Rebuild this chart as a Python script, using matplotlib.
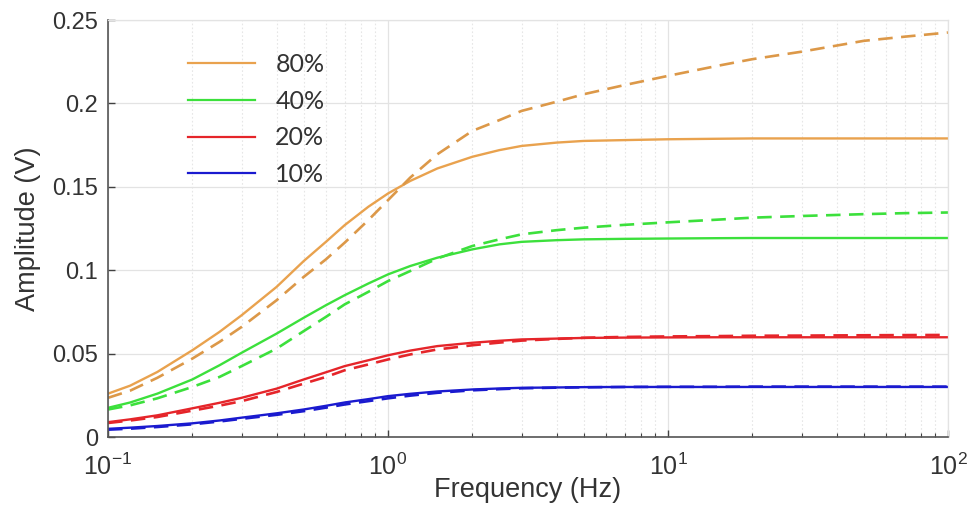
import numpy as np
import matplotlib
matplotlib.use("Agg")
import matplotlib.pyplot as plt
from matplotlib.ticker import LogLocator, NullFormatter, FixedLocator

plt.rcParams['font.family'] = ['Liberation Sans', 'DejaVu Sans']
plt.rcParams['mathtext.fontset'] = 'custom'
plt.rcParams['mathtext.rm'] = 'Liberation Sans'

freq = [0.1, 0.12, 0.15, 0.2, 0.25, 0.3, 0.4, 0.5, 0.6, 0.7, 0.85, 1, 1.2, 1.5,
        2, 2.5, 3, 4, 5, 7, 10, 15, 20, 30, 50, 70, 100]

# solid = model, dashed = measurement
amp80_solid = [0.026, 0.0308, 0.039, 0.052, 0.063, 0.073, 0.090, 0.1055, 0.117, 0.127,
               0.138, 0.146, 0.1535, 0.161, 0.168, 0.172, 0.1745, 0.1765, 0.1775, 0.178,
               0.1785, 0.1788, 0.179, 0.179, 0.179, 0.179, 0.179]
amp80_dash = [0.0235, 0.0278, 0.0355, 0.047, 0.057, 0.066, 0.082, 0.096, 0.1065, 0.1165,
              0.130, 0.142, 0.1555, 0.1695, 0.1835, 0.190, 0.1955, 0.201, 0.2055, 0.211,
              0.2165, 0.2225, 0.2265, 0.231, 0.2375, 0.240, 0.2425]
amp40_solid = [0.0175, 0.0207, 0.026, 0.0345, 0.043, 0.0505, 0.062, 0.0715, 0.079, 0.085,
               0.092, 0.0975, 0.1025, 0.1075, 0.1125, 0.1155, 0.117, 0.118, 0.1185, 0.1188,
               0.119, 0.1192, 0.1193, 0.1193, 0.1193, 0.1193, 0.1193]
amp40_dash = [0.0165, 0.019, 0.0232, 0.030, 0.036, 0.0425, 0.053, 0.0635, 0.072, 0.0795,
              0.087, 0.0935, 0.0995, 0.107, 0.1145, 0.1185, 0.1215, 0.124, 0.1255, 0.1272,
              0.1287, 0.1303, 0.1315, 0.1325, 0.1336, 0.1342, 0.1346]
amp20_solid = [0.0089, 0.0106, 0.013, 0.0172, 0.0205, 0.0235, 0.029, 0.0345, 0.0388, 0.0425,
               0.046, 0.049, 0.0518, 0.0545, 0.0565, 0.0577, 0.0585, 0.059, 0.0594, 0.0596,
               0.0597, 0.0598, 0.0598, 0.0598, 0.0598, 0.0598, 0.0598]
amp20_dash = [0.0084, 0.0099, 0.012, 0.0158, 0.0188, 0.0215, 0.027, 0.032, 0.036, 0.040,
              0.0435, 0.0465, 0.0495, 0.0525, 0.055, 0.0566, 0.0578, 0.0588, 0.0595, 0.060,
              0.0603, 0.0605, 0.0607, 0.0608, 0.061, 0.0611, 0.0612]
amp10_solid = [0.0049, 0.0056, 0.0066, 0.0082, 0.0099, 0.0116, 0.0142, 0.0165, 0.0187, 0.0207,
               0.0227, 0.0245, 0.0259, 0.0273, 0.0285, 0.0291, 0.0295, 0.0297, 0.0299, 0.030,
               0.030, 0.030, 0.030, 0.030, 0.030, 0.030, 0.030]
amp10_dash = [0.0044, 0.005, 0.006, 0.0076, 0.0093, 0.0109, 0.0133, 0.0155, 0.0176, 0.0195,
              0.0215, 0.0232, 0.0248, 0.0265, 0.028, 0.0287, 0.0292, 0.0296, 0.0298, 0.030,
              0.0301, 0.0301, 0.0302, 0.0302, 0.0302, 0.0302, 0.0302]

labels = ["80%", "40%", "20%", "10%"]
colors = ["#E9A24E", "#3CE03C", "#E5252A", "#1A1ACF"]
dash_colors = ["#DC9848", "#3CE03C", "#E5252A", "#1A1ACF"]
solid = [amp80_solid, amp40_solid, amp20_solid, amp10_solid]
dashed = [amp80_dash, amp40_dash, amp20_dash, amp10_dash]

fig = plt.figure(figsize=(9.69, 5.25), dpi=100)
ax = fig.add_axes([0.1115, 0.1676, 0.8668, 0.7943])

for lab, c, dc, s, d in zip(labels, colors, dash_colors, solid, dashed):
    ax.plot(freq, s, color=c, lw=1.7, label=lab)
    ax.plot(freq, d, color=dc, lw=1.9, ls=(0, (5.5, 3.2)))

ax.set_xscale('log')
ax.set_xlim(0.1, 100)
ax.set_ylim(0, 0.25)
ax.yaxis.set_major_locator(FixedLocator([0, 0.05, 0.1, 0.15, 0.2, 0.25]))
ax.set_yticklabels(["0", "0.05", "0.1", "0.15", "0.2", "0.25"])
ax.xaxis.set_major_locator(FixedLocator([0.1, 1, 10, 100]))
ax.set_xticklabels([r"$\mathdefault{10^{-1}}$", r"$\mathdefault{10^{0}}$",
                    r"$\mathdefault{10^{1}}$", r"$\mathdefault{10^{2}}$"])
ax.xaxis.set_minor_locator(LogLocator(base=10, subs=np.arange(2, 10), numticks=20))
ax.xaxis.set_minor_formatter(NullFormatter())

ax.grid(True, which='major', color='#e3e3e3', lw=0.9)
ax.grid(True, which='minor', axis='x', color='#e6e6e6', lw=0.8, ls=(0, (1.5, 2)))
ax.set_axisbelow(True)

ax.tick_params(which='both', direction='in', colors='#404040', labelcolor='#333333',
               top=False, right=False)
ax.tick_params(axis='y', labelsize=17, pad=7)
ax.tick_params(axis='x', labelsize=18, pad=12)
ax.tick_params(which='major', length=5, width=1)
ax.tick_params(which='minor', length=3, width=0.8)

for side in ['left', 'bottom']:
    ax.spines[side].set_color('#555555')
    ax.spines[side].set_linewidth(1.2)
for side in ['top', 'right']:
    ax.spines[side].set_color('#e3e3e3')
    ax.spines[side].set_linewidth(0.9)

ax.set_xlabel("Frequency (Hz)", fontsize=19.5, color='#333333', labelpad=-2)
ax.set_ylabel("Amplitude (V)", fontsize=19.5, color='#333333', labelpad=8)

leg = ax.legend(loc='upper left', bbox_to_anchor=(0.095, 0.921), frameon=False,
                borderpad=0, borderaxespad=0,
                prop={'family': 'Lato', 'size': 18}, handlelength=2.7,
                handletextpad=0.8, labelspacing=0.55)
for t in leg.get_texts():
    t.set_color('#333333')
for h in leg.get_lines():
    h.set_linewidth(1.6)

fig.savefig("out.png", dpi=100)
